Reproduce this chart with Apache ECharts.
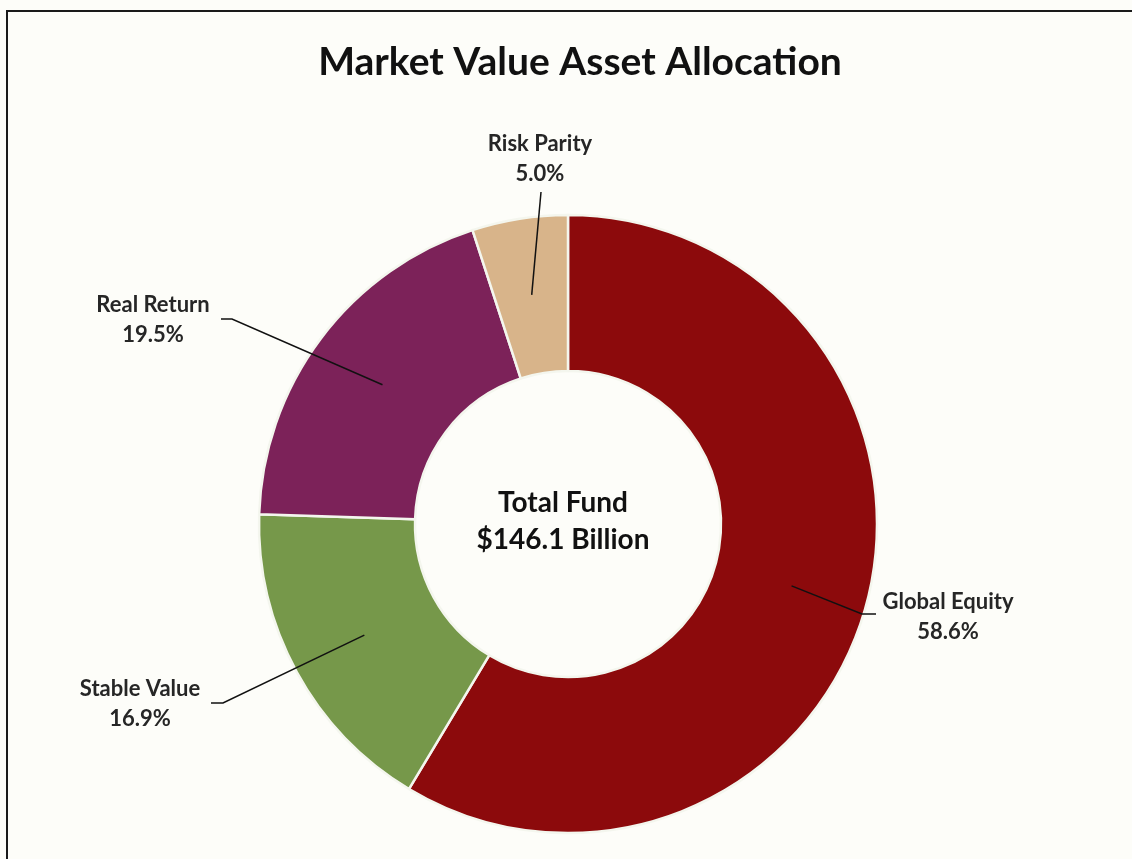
<!DOCTYPE html>
<html>
<head>
<meta charset="utf-8">
<script src="https://cdn.jsdelivr.net/npm/echarts@6/dist/echarts.min.js"></script>
<style>
  html, body { margin: 0; padding: 0; background: #fdfdf9; }
  #chart { width: 1132px; height: 859px; }
</style>
</head>
<body>
<div id="chart"></div>
<script>
// Asset classes and their share of the total fund (percent)
const categories = ['Global Equity', 'Stable Value', 'Real Return', 'Risk Parity'];
const shares = [58.6, 16.9, 19.5, 5.0];
const colors = ['#8c0a0c', '#76984a', '#7c2259', '#d8b48a'];
const centerLines = ['Total Fund', '$146.1 Billion'];

// Where each label sits and how its leader line bends toward it
const labelSpots = [
  { x: 948, y: 617, elbow: [862, 614], end: [876, 614] },
  { x: 140, y: 704, elbow: [223, 703], end: [211, 703] },
  { x: 153, y: 320, elbow: [232, 319], end: [221, 319] },
  { x: 540, y: 159, elbow: [541, 192], end: [541, 192] }
];

const FONT = 'Lato, "Open Sans", sans-serif';
const CENTER = [568, 524];

const chart = echarts.init(document.getElementById('chart'), null, { renderer: 'canvas' });

chart.setOption({
  backgroundColor: '#fdfdf9',
  animation: false,
  title: {
    text: 'Market Value Asset Allocation',
    left: 575,
    top: 38,
    textAlign: 'center',
    textStyle: { fontFamily: FONT, fontSize: 39, fontWeight: 'bold', color: '#111' }
  },
  graphic: [
    {
      type: 'rect',
      shape: { x: 7, y: 11, width: 1300, height: 1000 },
      style: { fill: 'none', stroke: '#1a1a1a', lineWidth: 2 },
      silent: true
    },
    {
      type: 'text',
      style: {
        x: 563, y: 521,
        text: centerLines.join('\n'),
        align: 'center',
        verticalAlign: 'middle',
        fontFamily: FONT,
        fontSize: 28,
        fontWeight: 'bold',
        lineHeight: 37,
        fill: '#111'
      },
      silent: true
    }
  ],
  series: [
    {
      // the ring itself
      type: 'pie',
      z: 2,
      center: CENTER,
      radius: [153, 309],
      startAngle: 90,
      clockwise: true,
      silent: true,
      label: { show: false },
      labelLine: { show: false },
      itemStyle: { borderColor: '#f4f6ee', borderWidth: 2.5 },
      data: categories.map((name, i) => ({
        name: name,
        value: shares[i],
        itemStyle: { color: colors[i] }
      }))
    },
    {
      // invisible mid-ring pie that carries the labels, so leader lines start inside each slice
      type: 'pie',
      z: 5,
      center: CENTER,
      radius: [0, 232],
      startAngle: 90,
      clockwise: true,
      silent: true,
      itemStyle: { color: 'rgba(0,0,0,0)', borderWidth: 0 },
      label: {
        show: true,
        position: 'outside',
        formatter: p => p.name + '\n' + p.value.toFixed(1) + '%',
        fontFamily: FONT,
        fontSize: 22,
        fontWeight: 'bold',
        lineHeight: 30,
        color: '#262626',
        align: 'center'
      },
      labelLine: {
        show: true,
        length: 20,
        length2: 10,
        lineStyle: { color: '#111', width: 1.5 }
      },
      labelLayout: function (p) {
        const s = labelSpots[p.dataIndex];
        const start = p.labelLinePoints ? p.labelLinePoints[0] : s.elbow;
        return {
          x: s.x,
          y: s.y,
          align: 'center',
          verticalAlign: 'middle',
          labelLinePoints: [start, s.elbow, s.end]
        };
      },
      data: categories.map((name, i) => ({ name: name, value: shares[i] }))
    }
  ]
});
</script>
</body>
</html>
